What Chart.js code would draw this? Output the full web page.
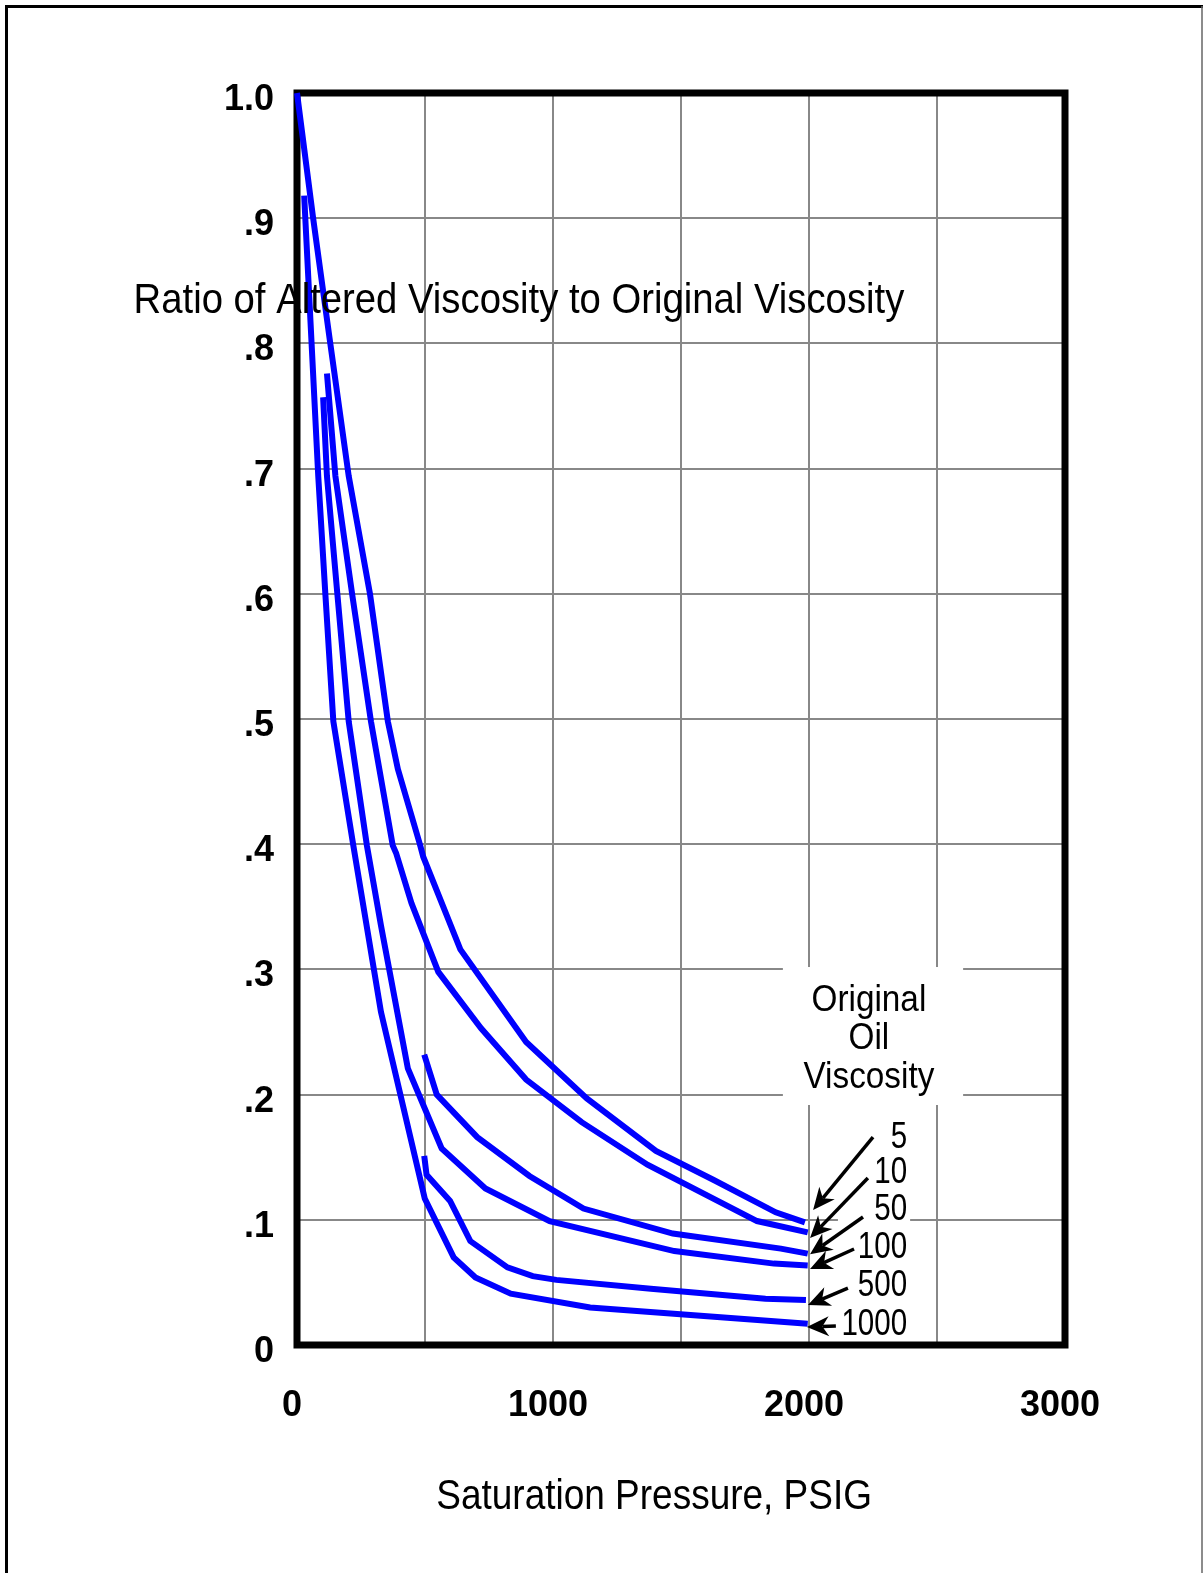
<!DOCTYPE html>
<html>
<head>
<meta charset="utf-8">
<script src="https://cdn.jsdelivr.net/npm/chart.js@4.4.1/dist/chart.umd.min.js"></script>
<style>
  html, body { margin: 0; padding: 0; background: #fff; }
  #chart { display: block; }
</style>
</head>
<body>
<canvas id="chart" width="1203" height="1573"></canvas>
<script>
/*------------------------ DATA ---------------------------------*/

// original oil viscosity of each curve
const viscosityLabels = ['5', '10', '50', '100', '500', '1000']

// saturation pressure (psig) / viscosity ratio, one pair per curve
const pressure5 = [0, 63, 130, 202, 285, 355, 394, 480, 493, 638, 895, 1132, 1402, 1626, 1870, 1984]
const ratio5 = [1.0, 0.90, 0.80, 0.694, 0.60, 0.498, 0.46, 0.40, 0.39, 0.316, 0.242, 0.197, 0.155, 0.132, 0.106, 0.098]

const pressure10 = [117, 150, 216, 289, 374, 387, 447, 552, 719, 895, 1112, 1369, 1797, 1995]
const ratio10 = [0.776, 0.694, 0.599, 0.498, 0.399, 0.393, 0.353, 0.298, 0.253, 0.212, 0.178, 0.144, 0.099, 0.090]

const pressure50 = [497, 546, 704, 908, 1119, 1468, 1890, 1995]
const ratio50 = [0.232, 0.200, 0.166, 0.135, 0.109, 0.089, 0.077, 0.073]

const pressure100 = [102, 117, 158, 202, 273, 328, 433, 565, 736, 987, 1474, 1863, 1995]
const ratio100 = [0.757, 0.694, 0.599, 0.498, 0.399, 0.335, 0.221, 0.157, 0.125, 0.099, 0.075, 0.065, 0.0635]

const pressure500 = [497, 506, 598, 677, 822, 921, 1013, 1382, 1830, 1988]
const ratio500 = [0.151, 0.136, 0.115, 0.083, 0.062, 0.055, 0.052, 0.045, 0.037, 0.036]

const pressure1000 = [28, 83, 111, 142, 220, 328, 499, 612, 697, 835, 1145, 1995]
const ratio1000 = [0.918, 0.694, 0.599, 0.498, 0.399, 0.266, 0.117, 0.070, 0.054, 0.041, 0.030, 0.017]

// tick labels
const xTickLabels = ['0', '', '1000', '', '2000', '', '3000']
const yTickLabels = ['0', '.1', '.2', '.3', '.4', '.5', '.6', '.7', '.8', '.9', '1.0']

/*------------------------ CHART ---------------------------------*/

const pressures = [pressure5, pressure10, pressure50, pressure100, pressure500, pressure1000]
const ratios = [ratio5, ratio10, ratio50, ratio100, ratio500, ratio1000]

const curveData = {
    datasets: viscosityLabels.map((label, i) => ({
        label: label,
        data: pressures[i].map((p, j) => ({ x: p, y: ratios[i][j] })),
        borderColor: '#0000ff',
        borderWidth: 6,
        borderCapStyle: 'butt',
        pointRadius: 0,
        fill: false,
        tension: 0,
        clip: false
    }))
}

// text and arrows placed in axis units (pressure, ratio); text y is the baseline
const notes = {
    yTitle: { text: 'Ratio of Altered Viscosity to Original Viscosity', x: 867, y: 0.8243 },
    xTitle: { text: 'Saturation Pressure, PSIG', x: 1395, y: -0.131 },
    boxTitle: ['Original', 'Oil', 'Viscosity'],
    boxTitleX: 2234,
    boxTitleY: [0.2668, 0.2364, 0.2053],
    whiteBox: [1898, 0.3019, 2602, 0.1917],
    numberBox: [2113, 0.1837, 2395, 0.004],
    labelRight: 2383,
    labelY: [0.1575, 0.1296, 0.1000, 0.0697, 0.0393, 0.0082],
    tails: [[2250, 0.1661], [2230, 0.1334], [2211, 0.1022], [2176, 0.0767], [2152, 0.0455], [2105, 0.0152]],
    tips: [[2016, 0.1078], [2004, 0.0855], [2004, 0.0724], [2004, 0.0607], [1996, 0.0319], [1992, 0.0144]]
}

function squeezedText(ctx, text, x, y, size, squeeze, align) {
    ctx.save()
    ctx.font = size + 'px "Liberation Sans", Arial, sans-serif'
    ctx.fillStyle = '#000'
    ctx.textAlign = align
    ctx.textBaseline = 'alphabetic'
    ctx.translate(x, y)
    ctx.scale(squeeze, 1)
    ctx.fillText(text, 0, 0)
    ctx.restore()
}

function arrow(ctx, x1, y1, x2, y2) {
    const ang = Math.atan2(y2 - y1, x2 - x1)
    const head = 22
    const half = 10
    ctx.save()
    ctx.strokeStyle = '#000'
    ctx.fillStyle = '#000'
    ctx.lineWidth = 3.5
    ctx.beginPath()
    ctx.moveTo(x1, y1)
    ctx.lineTo(x2 - Math.cos(ang) * head * 0.7, y2 - Math.sin(ang) * head * 0.7)
    ctx.stroke()
    ctx.translate(x2, y2)
    ctx.rotate(ang)
    ctx.beginPath()
    ctx.moveTo(0, 0)
    ctx.lineTo(-head, -half)
    ctx.lineTo(-head * 0.7, 0)
    ctx.lineTo(-head, half)
    ctx.closePath()
    ctx.fill()
    ctx.restore()
}

const framePlugin = {
    id: 'framePlugin',
    beforeDraw(chart) {
        const ctx = chart.ctx
        ctx.save()
        ctx.fillStyle = '#fff'
        ctx.fillRect(0, 0, chart.width, chart.height)
        ctx.strokeStyle = '#000'
        ctx.lineWidth = 3
        ctx.beginPath()
        ctx.moveTo(6.5, chart.height)
        ctx.lineTo(6.5, 6.5)
        ctx.lineTo(chart.width, 6.5)
        ctx.stroke()
        ctx.strokeStyle = '#666'
        ctx.lineWidth = 1.5
        ctx.beginPath()
        ctx.moveTo(chart.width - 1, 6)
        ctx.lineTo(chart.width - 1, chart.height)
        ctx.stroke()
        ctx.restore()
    },
    beforeDatasetsDraw(chart) {
        const ctx = chart.ctx
        const a = chart.chartArea
        ctx.save()
        ctx.strokeStyle = '#000'
        ctx.lineWidth = 7
        ctx.strokeRect(a.left, a.top, a.right - a.left, a.bottom - a.top)
        ctx.restore()
    },
    afterDatasetsDraw(chart) {
        const ctx = chart.ctx
        const sx = chart.scales.x
        const sy = chart.scales.y
        const px = v => sx.getPixelForValue(v)
        const py = v => sy.getPixelForValue(v)

        squeezedText(ctx, notes.yTitle.text, px(notes.yTitle.x), py(notes.yTitle.y), 43, 0.89, 'center')
        squeezedText(ctx, notes.xTitle.text, px(notes.xTitle.x), py(notes.xTitle.y), 43, 0.86, 'center')

        ctx.save()
        ctx.fillStyle = '#fff'
        const wb = notes.whiteBox
        ctx.fillRect(px(wb[0]), py(wb[1]), px(wb[2]) - px(wb[0]), py(wb[3]) - py(wb[1]))
        const nb = notes.numberBox
        ctx.fillRect(px(nb[0]), py(nb[1]), px(nb[2]) - px(nb[0]), py(nb[3]) - py(nb[1]))
        ctx.restore()

        notes.boxTitle.forEach((t, i) => {
            squeezedText(ctx, t, px(notes.boxTitleX), py(notes.boxTitleY[i]), 37, 0.9, 'center')
        })

        viscosityLabels.forEach((t, i) => {
            squeezedText(ctx, t, px(notes.labelRight), py(notes.labelY[i]), 36, 0.82, 'right')
            const tail = notes.tails[i]
            const tip = notes.tips[i]
            arrow(ctx, px(tail[0]), py(tail[1]), px(tip[0]), py(tip[1]))
        })
    }
}

const tickFont = { family: '"Liberation Sans", Arial, sans-serif', size: 36, weight: 'bold' }

const curveOptions = {
    type: 'line',
    data: curveData,
    options: {
        responsive: false,
        animation: false,
        devicePixelRatio: 1,
        layout: {
            padding: { top: 93, right: 138, left: 0, bottom: 0 }
        },
        scales: {
            x: {
                type: 'linear',
                min: 0,
                max: 3000,
                afterFit(scale) { scale.height = 228 },
                ticks: {
                    stepSize: 500,
                    autoSkip: false,
                    maxRotation: 0,
                    padding: 39,
                    labelOffset: -5,
                    color: '#000',
                    font: tickFont,
                    callback: v => xTickLabels[Math.round(v / 500)]
                },
                grid: { color: '#888', lineWidth: 2, drawTicks: false },
                border: { display: false }
            },
            y: {
                type: 'linear',
                min: 0,
                max: 1,
                afterFit(scale) { scale.width = 297 },
                ticks: {
                    stepSize: 0.1,
                    autoSkip: false,
                    padding: 23,
                    labelOffset: 7,
                    color: '#000',
                    font: tickFont,
                    callback: v => yTickLabels[Math.round(v * 10)]
                },
                grid: { color: '#888', lineWidth: 2, drawTicks: false },
                border: { display: false }
            }
        },
        plugins: {
            legend: { display: false },
            tooltip: { enabled: false }
        }
    },
    plugins: [framePlugin]
}

const curveChart = new Chart(document.querySelector('#chart').getContext('2d'), curveOptions)
</script>
</body>
</html>
